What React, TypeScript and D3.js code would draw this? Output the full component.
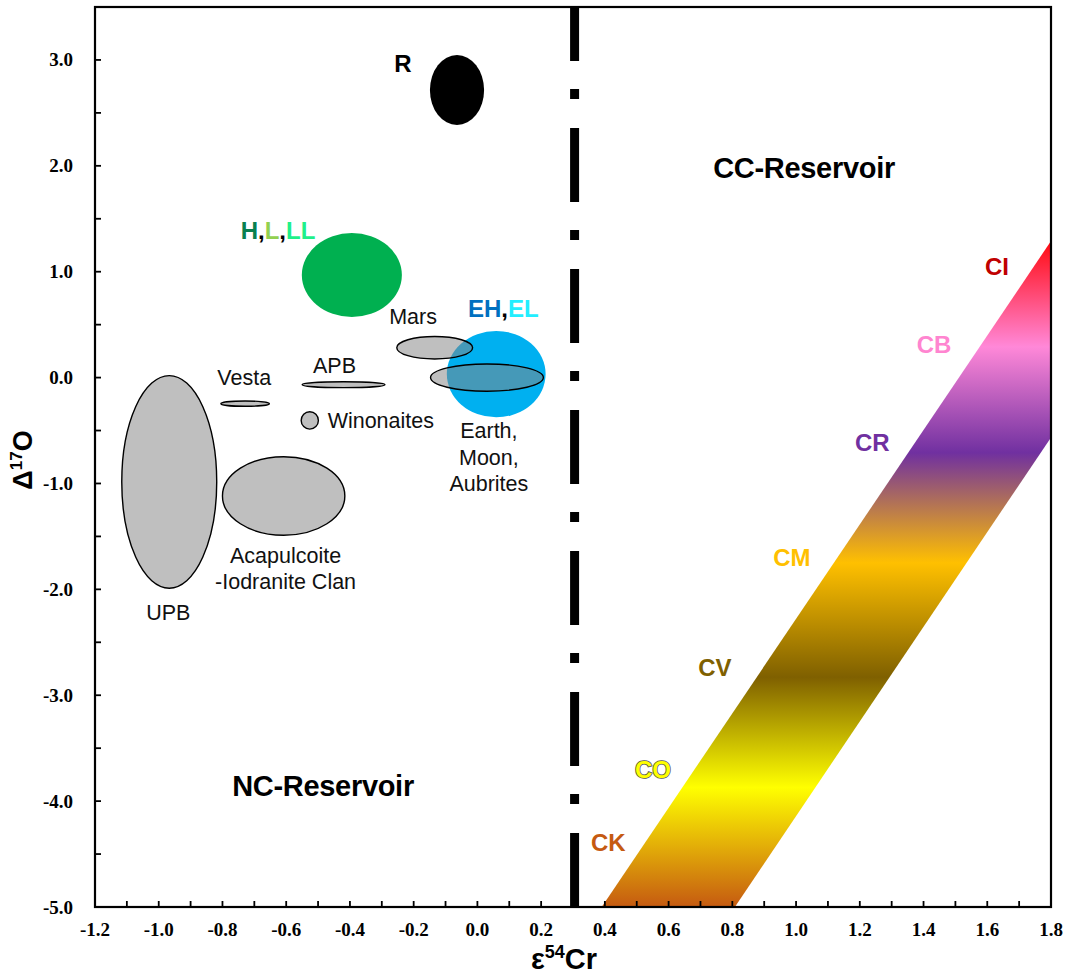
import React from "react";
import * as d3 from "d3";

// ---------- data ----------
const xDomain = [-1.2, 1.8];
const yDomain = [-5.0, 3.5];
const xTickLabels = [-1.2, -1.0, -0.8, -0.6, -0.4, -0.2, 0.0, 0.2, 0.4, 0.6, 0.8, 1.0, 1.2, 1.4, 1.6, 1.8];
const yTickLabels = [3.0, 2.0, 1.0, 0.0, -1.0, -2.0, -3.0, -4.0, -5.0];

// reservoir boundary (ε54Cr)
const boundaryX = 0.305;

// fields: centre and half-widths in data units
const fieldNames = ["R", "OC", "EC", "Mars", "Earth", "APB", "Vesta", "Winonaites", "UPB", "Acapulcoite"];
const fieldCx = [-0.064, -0.394, 0.059, -0.134, 0.03, -0.42, -0.729, -0.526, -0.967, -0.608];
const fieldCy = [2.716, 0.969, 0.033, 0.282, 0.0, -0.067, -0.246, -0.405, -0.985, -1.118];
const fieldRx = [0.085, 0.157, 0.155, 0.119, 0.177, 0.13, 0.076, 0.027, 0.149, 0.192];
const fieldRy = [0.33, 0.397, 0.408, 0.106, 0.129, 0.028, 0.025, 0.082, 1.004, 0.371];

// carbonaceous chondrite band (polygon vertices)
const bandX = [0.39, 1.8, 1.8, 0.808];
const bandY = [-5.0, 1.29, -0.565, -5.0];
// vertical colour ramp along Δ17O
const rampY = [1.29, 0.29, -0.71, -1.75, -2.83, -3.87, -5.0];
const rampColor = ["#ff0a10", "#ff88d8", "#7030a0", "#ffc000", "#7f6000", "#ffff00", "#c55a11"];

// CC group labels
const ccNames = ["CI", "CB", "CR", "CM", "CV", "CO", "CK"];
const ccX = [1.593, 1.3785, 1.185, 0.9285, 0.693, 0.4945, 0.3565];
const ccY = [0.969, 0.23, -0.693, -1.776, -2.817, -3.783, -4.47];

// plain field labels (anchor in data units)
const labelText = ["Mars", "APB", "Vesta", "Winonaites"];
const labelX = [-0.277, -0.516, -0.816, -0.47];
const labelY = [0.507, 0.047, -0.069, -0.473];

// ---------- styles ----------
const fieldStyle: Record<string, { fill: string }> = {
  R: { fill: "#000000" },
  OC: { fill: "#00b050" },
  EC: { fill: "#00b0f0" },
};
const greyStyle = { fill: "#858585", opacity: 0.52, stroke: "#000" };
const ccColor: Record<string, string> = {
  CI: "#c00000", CB: "#ff85d0", CR: "#7030a0", CM: "#ffc000", CV: "#7f6000", CO: "#ffff00", CK: "#c55a11",
};

const W = 1066, H = 978;
const M = { left: 95, right: 1051, top: 7, bottom: 907 };
const SANS = "'Liberation Sans', Arial, sans-serif";
const SERIF = "'Liberation Serif', 'Times New Roman', serif";

export default function App() {
  const x = d3.scaleLinear().domain(xDomain).range([M.left, M.right]);
  const y = d3.scaleLinear().domain(yDomain).range([M.bottom, M.top]);

  const xMinor = d3.range(-11, 19).map((i) => i / 10);
  const yMinor = d3.range(-9, 7).map((i) => i / 2);

  const bandPath = d3.line<number>().x((i) => x(bandX[i])).y((i) => y(bandY[i]))(d3.range(bandX.length)) + "Z";

  const y1 = y(rampY[0]);
  const y2 = y(rampY[rampY.length - 1]);

  const grey = fieldNames.map((n, i) => ({ n, i })).filter((d) => !fieldStyle[d.n]);
  const colored = fieldNames.map((n, i) => ({ n, i })).filter((d) => fieldStyle[d.n]);

  return (
    <svg width={W} height={H} style={{ position: "absolute", left: 0, top: 0, background: "#fff" }}>
      <defs>
        <linearGradient id="ccRamp" gradientUnits="userSpaceOnUse" x1={0} x2={0} y1={y1} y2={y2}>
          {rampY.map((v, i) => (
            <stop key={i} offset={(y(v) - y1) / (y2 - y1)} stopColor={rampColor[i]} />
          ))}
        </linearGradient>
        <clipPath id="plotClip">
          <rect x={M.left} y={M.top} width={M.right - M.left} height={M.bottom - M.top} />
        </clipPath>
      </defs>

      {/* CC band */}
      <path d={bandPath} fill="url(#ccRamp)" clipPath="url(#plotClip)" />

      {/* coloured fields */}
      {colored.map(({ n, i }) => (
        <ellipse key={n} cx={x(fieldCx[i])} cy={y(fieldCy[i])}
          rx={x(fieldCx[i] + fieldRx[i]) - x(fieldCx[i])} ry={y(fieldCy[i] - fieldRy[i]) - y(fieldCy[i])}
          fill={fieldStyle[n].fill} />
      ))}
      {/* grey fields */}
      {grey.map(({ n, i }) => (
        <ellipse key={n} cx={x(fieldCx[i])} cy={y(fieldCy[i])}
          rx={x(fieldCx[i] + fieldRx[i]) - x(fieldCx[i])} ry={y(fieldCy[i] - fieldRy[i]) - y(fieldCy[i])}
          fill={greyStyle.fill} fillOpacity={greyStyle.opacity} stroke={greyStyle.stroke} strokeWidth={1.4} />
      ))}

      {/* boundary line */}
      <line x1={x(boundaryX)} x2={x(boundaryX)} y1={M.top} y2={M.bottom} stroke="#000" strokeWidth={9}
        strokeDasharray="74 28 10 29" strokeDashoffset={20} />

      {/* frame */}
      <rect x={M.left} y={M.top} width={M.right - M.left} height={M.bottom - M.top} fill="none" stroke="#000" strokeWidth={2.2} />

      {/* ticks */}
      {xMinor.map((t) => (
        <line key={"xt" + t} x1={x(t)} x2={x(t)} y1={M.bottom} y2={M.bottom - 6} stroke="#000" strokeWidth={1.8} />
      ))}
      {yMinor.map((t) => (
        <line key={"yt" + t} x1={M.left} x2={M.left + 6} y1={y(t)} y2={y(t)} stroke="#000" strokeWidth={1.8} />
      ))}
      {xTickLabels.map((t) => (
        <text key={"xl" + t} x={x(t)} y={936} textAnchor="middle" fontFamily={SERIF} fontWeight="bold" fontSize={19}>
          {d3.format(".1f")(t).replace("−", "-")}
        </text>
      ))}
      {yTickLabels.map((t) => (
        <text key={"yl" + t} x={73} y={y(t) + 6.5} textAnchor="end" fontFamily={SERIF} fontWeight="bold" fontSize={19}>
          {d3.format(".1f")(t).replace("−", "-")}
        </text>
      ))}

      {/* axis titles */}
      <text x={564} y={969} textAnchor="middle" fontFamily={SANS} fontWeight="bold" fontSize={29}>
        ε<tspan fontSize={18} dy={-11}>54</tspan><tspan dy={11}>Cr</tspan>
      </text>
      <text transform="translate(32,460) rotate(-90)" textAnchor="middle" fontFamily={SANS} fontWeight="bold" fontSize={27}>
        Δ<tspan fontSize={17} dy={-10}>17</tspan><tspan dy={10}>O</tspan>
      </text>

      {/* reservoir labels */}
      <text x={x(1.025)} y={y(1.885)} textAnchor="middle" fontFamily={SANS} fontWeight="bold" fontSize={29} letterSpacing={-0.3}>
        CC-Reservoir
      </text>
      <text x={x(-0.4845)} y={y(-3.95)} textAnchor="middle" fontFamily={SANS} fontWeight="bold" fontSize={29} letterSpacing={-0.3}>
        NC-Reservoir
      </text>

      {/* coloured field labels */}
      <text x={x(-0.234)} y={y(2.886)} textAnchor="middle" fontFamily={SANS} fontWeight="bold" fontSize={24}>R</text>
      <text x={x(-0.743)} y={y(1.306)} fontFamily={SANS} fontWeight="bold" fontSize={24}>
        <tspan fill="#0a8050">H</tspan><tspan fill="#000">,</tspan><tspan fill="#92d050">L</tspan>
        <tspan fill="#000">,</tspan><tspan fill="#1ef08a">LL</tspan>
      </text>
      <text x={x(-0.0295)} y={y(0.576)} fontFamily={SANS} fontWeight="bold" fontSize={24}>
        <tspan fill="#0070c0">EH</tspan><tspan fill="#000">,</tspan><tspan fill="#22eeff">EL</tspan>
      </text>

      {/* grey field labels */}
      {labelText.map((t, i) => (
        <text key={t} x={x(labelX[i])} y={y(labelY[i])} fontFamily={SANS} fontSize={21.5} fill="#111">{t}</text>
      ))}
      <text x={x(0.036)} y={y(-0.57)} textAnchor="middle" fontFamily={SANS} fontSize={21.5} fill="#111">
        <tspan x={x(0.036)}>Earth,</tspan>
        <tspan x={x(0.036)} dy={27}>Moon,</tspan>
        <tspan x={x(0.036)} dy={26}>Aubrites</tspan>
      </text>
      <text x={x(-0.602)} y={y(-1.753)} textAnchor="middle" fontFamily={SANS} fontSize={21.5} fill="#111">
        <tspan x={x(-0.602)}>Acapulcoite</tspan>
        <tspan x={x(-0.602)} dy={26}>-Iodranite Clan</tspan>
      </text>
      <text x={x(-0.97)} y={y(-2.289)} textAnchor="middle" fontFamily={SANS} fontSize={21.5} fill="#111">UPB</text>

      {/* CC group labels */}
      {ccNames.map((n, i) => (
        <text key={n} x={x(ccX[i])} y={y(ccY[i])} fontFamily={SANS} fontWeight="bold" fontSize={24}
          fill={ccColor[n]} stroke={n === "CO" ? "#555" : "none"} strokeWidth={n === "CO" ? 1.6 : 0}
          style={{ paintOrder: "stroke" }}>
          {n}
        </text>
      ))}
    </svg>
  );
}
